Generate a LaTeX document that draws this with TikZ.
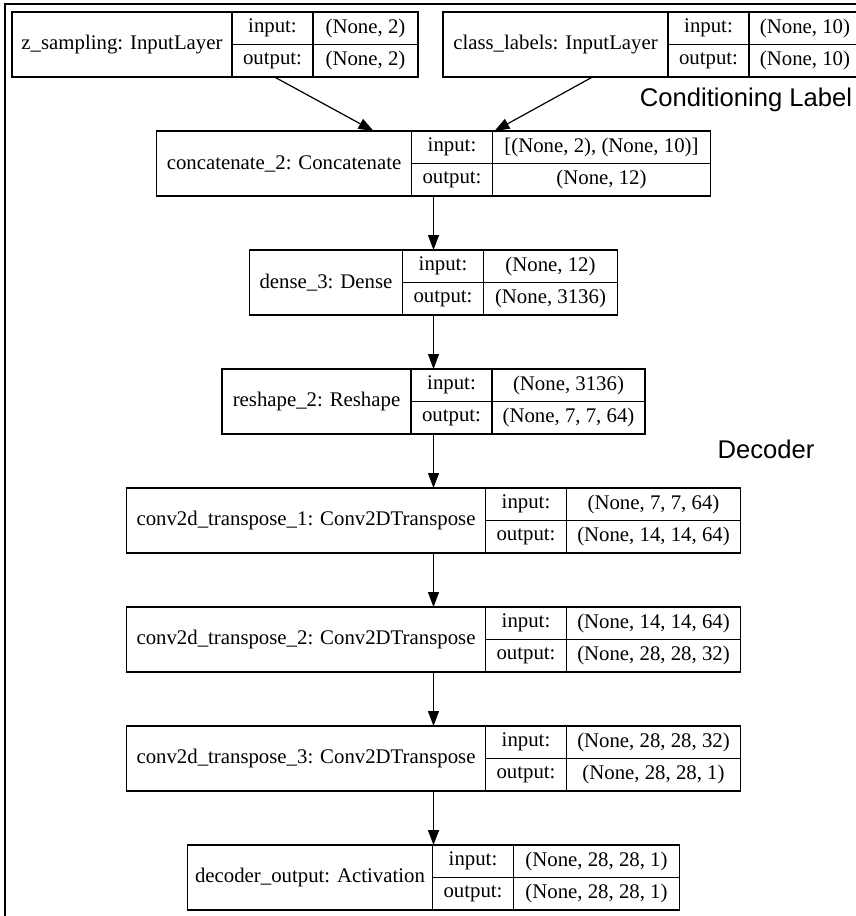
\documentclass[tikz,border=0pt]{standalone}
\usepackage{fontspec}
\setmainfont{Liberation Serif}
\newfontfamily\helv{Liberation Sans}
\usepackage{tikz}
\usetikzlibrary{arrows.meta,positioning}

% one record: name, centre x, top y, label width, value width, label, input, output
\newcommand{\layer}[8]{%
  \pgfmathsetmacro{\recw}{#4+81+#5}
  \node[record, minimum width=\recw, anchor=north] (#1) at (#2,#3) {};
  \node[cell, minimum width=#4, minimum height=65, anchor=north west] (#1-name) at (#1.north west) {#6};
  \node[cell, minimum width=81, anchor=north west] (#1-in) at (#1-name.north east) {input:};
  \node[cell, minimum width=81, anchor=north west] (#1-out) at (#1-in.south west) {output:};
  \node[cell, minimum width=#5, anchor=north west] (#1-inv) at (#1-in.north east) {#7};
  \node[cell, minimum width=#5, anchor=north west] (#1-outv) at (#1-out.north east) {#8};
}

\begin{document}
\begin{tikzpicture}[
  x=1pt, y=-1pt,
  record/.style={draw=none, inner sep=0pt, outer sep=0pt, minimum height=65},
  cell/.style={draw, line width=1.2pt, inner sep=0pt, outer sep=0pt,
    minimum height=32.5, font=\fontsize{20.8}{25}\selectfont},
  tag/.style={font=\helv\fontsize{25.6}{30}\selectfont},
  ->, >={Triangle[length=15pt,width=11pt]}, line width=1.2pt
]
\useasboundingbox (0,0) rectangle (856,916);
\clip (0,0) rectangle (856,916);

% frame of the screenshot
\draw[-, line width=2pt] (5,916) -- (5,4) -- (856,4);

\layer{zs}{215}{12}{220}{105}{z\_sampling: InputLayer}{(None, 2)}{(None, 2)}
\layer{cl}{652}{12}{225}{112}{class\_labels: InputLayer}{(None, 10)}{(None, 10)}
\layer{cc}{433.5}{131}{255}{218}{concatenate\_2: Concatenate}{[(None, 2), (None, 10)]}{(None, 12)}
\layer{ds}{433.5}{250}{153}{134}{dense\_3: Dense}{(None, 12)}{(None, 3136)}
\layer{rs}{433.5}{369}{189}{153}{reshape\_2: Reshape}{(None, 3136)}{(None, 7, 7, 64)}
\layer{ct1}{433.5}{488}{359}{174}{conv2d\_transpose\_1: Conv2DTranspose}{(None, 7, 7, 64)}{(None, 14, 14, 64)}
\layer{ct2}{433.5}{607}{359}{174}{conv2d\_transpose\_2: Conv2DTranspose}{(None, 14, 14, 64)}{(None, 28, 28, 32)}
\layer{ct3}{433.5}{726}{359}{174}{conv2d\_transpose\_3: Conv2DTranspose}{(None, 28, 28, 32)}{(None, 28, 28, 1)}
\layer{dec}{433.5}{845}{245}{166}{decoder\_output: Activation}{(None, 28, 28, 1)}{(None, 28, 28, 1)}

\node[tag, anchor=base] (cond) at (746,106) {Conditioning Label};
\node[tag] (decoder) at (766,449) {Decoder};

\draw ([xshift=2]zs-out.south) -- ([xshift=-60]cc.north);
\draw ([xshift=37]cl-name.south) -- ([xshift=61]cc.north);
\draw (cc.south) -- (ds.north);
\draw (ds.south) -- (rs.north);
\draw (rs.south) -- (ct1.north);
\draw (ct1.south) -- (ct2.north);
\draw (ct2.south) -- (ct3.north);
\draw (ct3.south) -- (dec.north);
\end{tikzpicture}
\end{document}
